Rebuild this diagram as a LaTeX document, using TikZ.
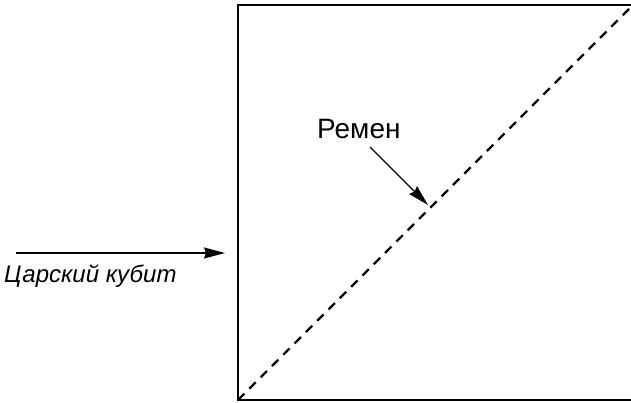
\documentclass[tikz,border=0pt]{standalone}
\usepackage{fontspec}
\setmainfont{Liberation Sans}
\usepackage{tikz}
\usetikzlibrary{arrows.meta,positioning}

\begin{document}
\begin{tikzpicture}[x=1pt, y=-1pt,
    lbl/.style={font=\fontsize{28}{30}\selectfont, inner sep=0pt, anchor=base west},
    lbli/.style={lbl, font=\fontsize{24}{26}\selectfont\itshape},
    frame/.style={draw=black, line width=2.2pt},
    belt/.style={line width=2.4pt, dash pattern=on 9pt off 7pt},
    arr/.style={-{Stealth[length=21pt, width=11pt, inset=2pt]}, line width=1.4pt}
]
  \useasboundingbox (0,0) rectangle (631,403);
  \clip (0,0) rectangle (631,403);

  % Square and its diagonal
  \coordinate (sq bl) at (238,400);
  \coordinate (sq tr) at (645,5);
  \draw[frame] (sq bl) rectangle (sq tr);
  \coordinate (diag end) at (633,5);
  \draw[belt] (sq bl) -- (diag end);

  % Labels
  \node[lbl] (remen) at (317,139) {Ремен};
  \node[lbli] (cubit) at (4,282) {Царский кубит};

  % Pointers
  \coordinate (remen tail) at (370,147);
  \coordinate (remen tip) at (428,205);
  \draw[arr] (remen tail) -- (remen tip);

  \coordinate (cubit tail) at (16,253);
  \coordinate (cubit tip) at (225,253);
  \draw[arr] (cubit tail) -- (cubit tip);
\end{tikzpicture}
\end{document}
